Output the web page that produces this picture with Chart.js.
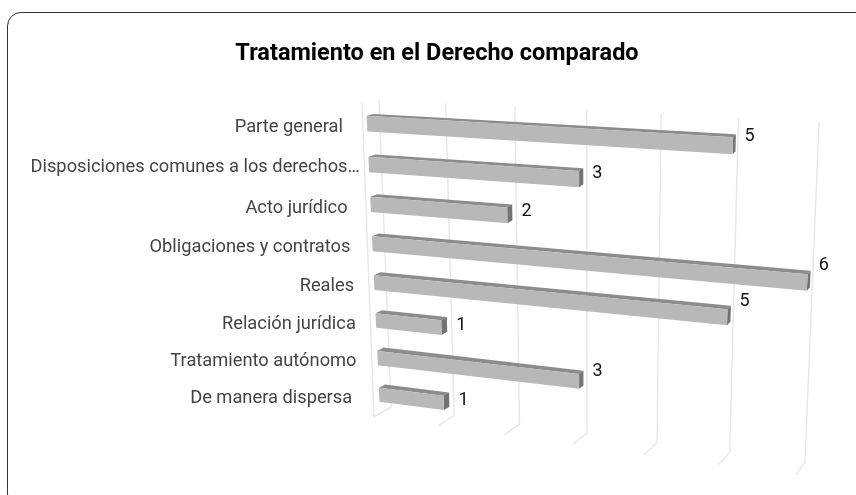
<!DOCTYPE html>
<html>
<head>
<meta charset="utf-8">
<script src="https://cdn.jsdelivr.net/npm/chart.js"></script>
<title>Tratamiento en el Derecho comparado</title>
<style>
  html, body { margin: 0; padding: 0; background: #fff; overflow: hidden; }
  #frame { position: absolute; left: 7px; top: 12px; width: 870px; height: 494px; border: 1px solid #333; border-radius: 14px; }
  #myChart { position: absolute; left: 0; top: 0; }
</style>
</head>
<body>
<div id="frame"></div>
<canvas id="myChart" width="856" height="495"></canvas>

<script>
  // values
  const categories = [
    'Parte general',
    'Disposiciones comunes a los derechos…',
    'Acto jurídico',
    'Obligaciones y contratos',
    'Reales',
    'Relación jurídica',
    'Tratamiento autónomo',
    'De manera dispersa'
  ];
  const counts = [5, 3, 2, 6, 5, 1, 3, 1];
  const axisTicks = [0, 1, 2, 3, 4, 5, 6];

  // the picture is a tilted 3D chart, so the flat plot gets pushed through a perspective map
  const barPlane = [[366, 103], [815, 128], [798, 467], [380, 413]];
  const backWall = [[379, 100], [819, 122], [805, 462], [391, 407]];
  const frontWall = [[362, 103], [806, 125], [796, 475], [374, 417]];
  const labelGaps = [24, 9, 23, 22, 20, 20, 21, 27];
  const depth = 0.55; // how far the bars extrude towards the back wall

  // square to quad homography (Heckbert)
  function makeMap(q) {
    const [p0, p1, p2, p3] = q;
    const sx = p0[0] - p1[0] + p2[0] - p3[0], sy = p0[1] - p1[1] + p2[1] - p3[1];
    const dx1 = p1[0] - p2[0], dx2 = p3[0] - p2[0], dy1 = p1[1] - p2[1], dy2 = p3[1] - p2[1];
    const den = dx1 * dy2 - dx2 * dy1;
    const g = (sx * dy2 - dx2 * sy) / den, h = (dx1 * sy - sx * dy1) / den;
    const a = p1[0] - p0[0] + g * p1[0], b = p3[0] - p0[0] + h * p3[0];
    const d = p1[1] - p0[1] + g * p1[1], e = p3[1] - p0[1] + h * p3[1];
    return (u, v) => {
      const w = g * u + h * v + 1;
      return [(a * u + b * v + p0[0]) / w, (d * u + e * v + p0[1]) / w];
    };
  }

  function poly(ctx, pts, color) {
    ctx.beginPath();
    pts.forEach((p, i) => i ? ctx.lineTo(p[0], p[1]) : ctx.moveTo(p[0], p[1]));
    ctx.closePath();
    ctx.fillStyle = color;
    ctx.fill();
  }

  const tilt = {
    id: 'tilt',
    // back wall, floor ticks and the one front line, under the bars
    beforeDatasetsDraw(chart) {
      const ctx = chart.ctx, xs = chart.scales.x;
      const back = makeMap(backWall), front = makeMap(frontWall);
      const span = xs.right - xs.left;
      ctx.save();
      ctx.strokeStyle = '#e8e8e8';
      ctx.lineWidth = 1.5;
      ctx.filter = 'blur(0.4px)';
      axisTicks.forEach(t => {
        const u = (xs.getPixelForValue(t) - xs.left) / span;
        const a = back(u, 0), b = back(u, 1), c = front(u, 1);
        ctx.beginPath();
        ctx.moveTo(a[0], a[1]);
        ctx.lineTo(b[0], b[1]);
        ctx.lineTo(c[0], c[1]);
        if (t === 0) {
          const top = front(0, 0);
          ctx.lineTo(top[0], top[1]);
        }
        ctx.stroke();
      });
      ctx.restore();
    },
    // replaces the flat bars with extruded ones
    beforeDatasetDraw(chart, args) {
      const ctx = chart.ctx, area = chart.chartArea, xs = chart.scales.x;
      const map = makeMap(barPlane), back = makeMap(backWall);
      const unit = (x, y) => [(x - area.left) / (area.right - area.left), (y - area.top) / (area.bottom - area.top)];
      const flat = (x, y) => map(...unit(x, y));
      const rear = (x, y) => {
        const p = map(...unit(x, y)), q = back(...unit(x, y));
        return [p[0] + (q[0] - p[0]) * depth, p[1] + (q[1] - p[1]) * depth];
      };
      ctx.save();
      args.meta.data.forEach((bar, i) => {
        const top = bar.y - bar.height / 2, bottom = bar.y + bar.height / 2;
        const tl = flat(bar.base, top), tr = flat(bar.x, top);
        const br = flat(bar.x, bottom), bl = flat(bar.base, bottom);
        const rtr = rear(bar.x, top), rbr = rear(bar.x, bottom);
        ctx.filter = 'blur(0.5px)';
        poly(ctx, [tl, tr, rtr, rear(bar.base, top)], '#8c8c8c');
        poly(ctx, [tr, rtr, rbr, br], '#727272');
        poly(ctx, [tl, tr, br, bl], bar.options.backgroundColor);
        ctx.filter = 'none';

        // value next to the bar end, at about half the bar's drop
        const anchor = flat(xs.getPixelForValue(counts[i] * 0.55), bar.y);
        ctx.fillStyle = '#111';
        ctx.font = '18px Roboto';
        ctx.textAlign = 'left';
        ctx.textBaseline = 'middle';
        ctx.fillText(String(counts[i]), rbr[0] + 9, anchor[1] + 1);

        // category label left of the bar start
        const start = flat(bar.base, bar.y);
        ctx.fillStyle = '#444';
        ctx.font = '18.3px Roboto';
        ctx.textAlign = 'right';
        ctx.fillText(categories[i], start[0] - labelGaps[i], start[1] + 3.5);
      });
      ctx.restore();
      return false;
    }
  };

  const ctx = document.getElementById('myChart');
  new Chart(ctx, {
    type: 'bar',
    data: {
      labels: categories,
      datasets: [{
        label: 'Tratamiento',
        data: counts,
        backgroundColor: '#b8b8b8',
        categoryPercentage: 0.8,
        barPercentage: 0.48
      }]
    },
    options: {
      indexAxis: 'y',
      responsive: false,
      animation: false,
      layout: { padding: { left: 18 } },
      scales: {
        x: { min: 0, max: 6, display: false },
        y: { display: false }
      },
      plugins: {
        legend: { display: false },
        tooltip: { enabled: false },
        title: {
          display: true,
          text: 'Tratamiento en el Derecho comparado',
          color: '#000',
          font: { family: 'Roboto', size: 23.5, weight: 'bold' },
          padding: { top: 40, bottom: 20 }
        }
      }
    },
    plugins: [tilt]
  });
</script>
</body>
</html>
